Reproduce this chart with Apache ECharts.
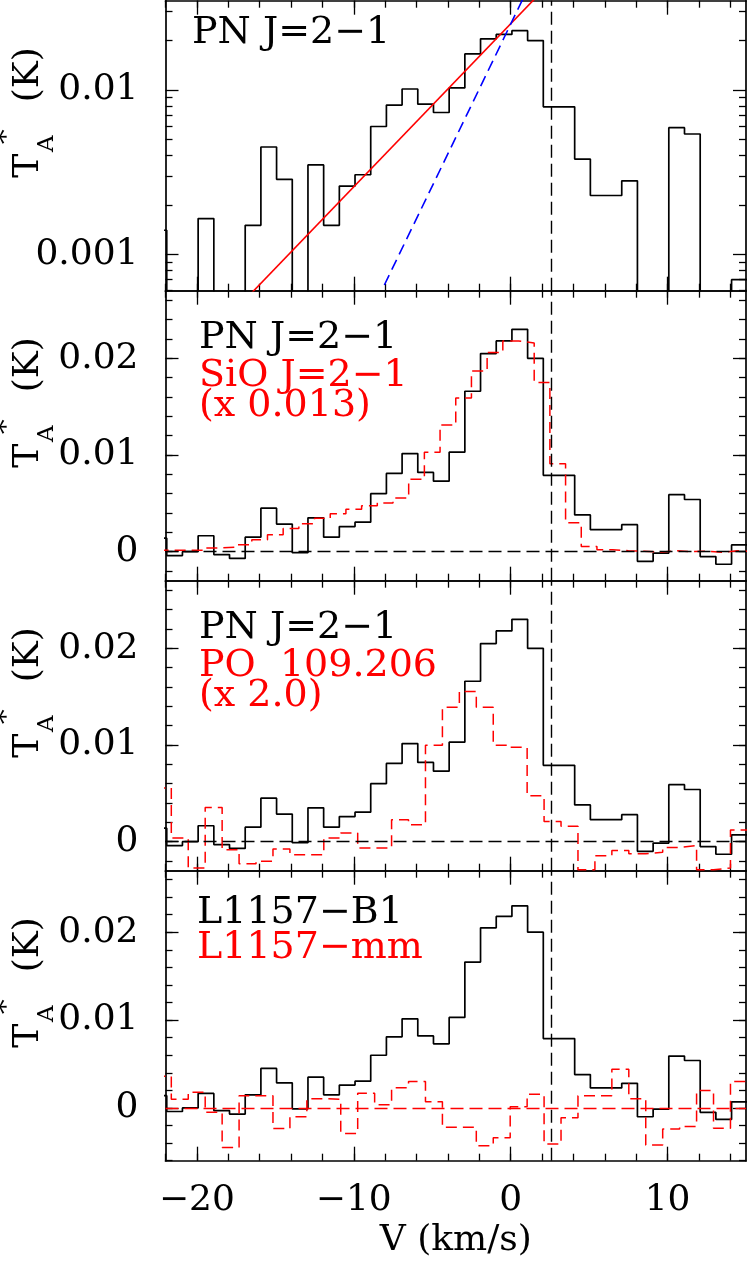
<!DOCTYPE html>
<html><head><meta charset="utf-8">
<script src="https://cdn.jsdelivr.net/npm/echarts@6/dist/echarts.min.js"></script>
<style>html,body{margin:0;padding:0;background:#fff}#c{width:747px;height:1264px}</style>
</head><body><div id="c"></div>
<script>
// ---------------- data ----------------
// PN J=2-1 towards L1157-B1 (channel centres, km/s) and T_A* (K)
const pnVel = [-22.42,-21.42,-20.42,-19.42,-18.42,-17.42,-16.42,-15.42,-14.42,-13.42,-12.42,-11.42,-10.42,-9.42,-8.42,-7.42,-6.42,-5.42,-4.42,-3.42,-2.42,-1.42,-0.42,0.58,1.58,2.58,3.58,4.58,5.58,6.58,7.58,8.58,9.58,10.58,11.58,12.58,13.58,14.58];
const pnT = [0.0014,-0.0004,0.0000,0.00165,-0.0003,-0.0007,0.0015,0.0045,0.00286,-0.0001,0.0035,0.0015,0.0026,0.00305,0.0060,0.0081,0.01015,0.0082,0.0073,0.0103,0.0166,0.0205,0.0218,0.0230,0.0200,0.0079,0.0079,0.0038,0.00228,0.00228,0.0028,-0.0010,-0.00014,0.0059,0.0054,-0.0005,-0.0013,0.0007];
// SiO J=2-1 scaled by 0.013
const sioVel = [-22,-21,-20,-19,-18,-17,-16,-15,-14,-13,-12,-11,-10,-9,-8,-7,-6,-5,-4,-3,-2,-1,0,1,2,3,4,5,6,7,8,9,10,11,12,13,14,15];
const sioT = [0.00014,0.00014,0.00014,0.00038,0.00048,0.00072,0.00124,0.00176,0.00241,0.0029,0.00345,0.00393,0.0044,0.00476,0.00503,0.00555,0.0075,0.0103,0.0131,0.0159,0.0187,0.0206,0.0218,0.0216,0.0175,0.0091,0.0030,0.00055,0.0002,0.0001,0.00005,-0.00005,0.0001,0.0,0.00005,-0.00005,0.0001,0.0];
// PO 109.206 GHz scaled by 2.0
const poVel = [-22.17,-21.09,-20.01,-18.93,-17.85,-16.77,-15.69,-14.61,-13.53,-12.45,-11.37,-10.29,-9.21,-8.13,-7.05,-5.97,-4.89,-3.81,-2.73,-1.65,-0.57,0.51,1.59,2.67,3.75,4.83,5.91,6.99,8.07,9.15,10.23,11.31,12.39,13.47,14.55];
const poT = [0.00555,0.00038,-0.00272,0.00355,-0.00083,-0.00228,-0.00203,-0.00076,-0.00134,-0.00134,0.00038,0.0009,-0.00066,-0.00066,0.00228,0.00176,0.00997,0.0139,0.01555,0.0139,0.00997,0.00976,0.00476,0.0021,0.00159,-0.0029,-0.00145,-0.0009,-0.00124,-0.0011,-0.00059,-0.00041,-0.0029,-0.00272,0.0012];
// PN J=2-1 towards L1157-mm
const mmVel = poVel;
const mmT = [0.0036,0.0010,0.0018,-0.0005,-0.0045,0.0014,0.0014,-0.00235,-0.0010,0.00106,0.0010,-0.0029,0.00167,0.00038,0.0023,0.0030,0.00072,-0.0022,-0.0022,-0.0043,-0.0034,0.00015,0.00155,-0.0041,-0.0011,0.0014,0.0014,0.0044,0.00106,-0.0042,-0.0024,-0.0021,0.0020,-0.0023,0.0030];
// exponential fits in the log panel (end points)
const redFit = [[-17.0,0.00052],[2.0,0.0400]];
const blueFit = [[-8.05,0.00065],[1.0,0.0397]];
const vSys = 2.6;
// axes
const xRange = [-22, 15];
const xMajor = [-20,-10,0,10];
const xMinor = [-22,-20,-18,-16,-14,-12,-10,-8,-6,-4,-2,0,2,4,6,8,10,12,14];
const logRange = [0.0006, 0.035];
const logMajor = [0.001, 0.01];
const logMinor = [0.0006,0.0007,0.0008,0.0009,0.002,0.003,0.004,0.005,0.006,0.007,0.008,0.009,0.02,0.03];
const linRange = [-0.003, 0.027];
const lin4Range = [-0.006, 0.027];
const linMajor = [0, 0.01, 0.02];
const linMinor = [-0.006,-0.004,-0.002,0,0.002,0.004,0.006,0.008,0.01,0.012,0.014,0.016,0.018,0.02,0.022,0.024,0.026];
const panelText = [
  [['PN J=2\u22121','#000']],
  [['PN J=2\u22121','#000'],['SiO J=2\u22121','#ff0000'],['(x 0.013)','#ff0000']],
  [['PN J=2\u22121','#000'],['PO  109.206','#ff0000'],['(x 2.0)','#ff0000']],
  [['L1157\u2212B1','#000'],['L1157\u2212mm','#ff0000']]
];
// ---------------- layout ----------------
const FONT = '"DejaVu Serif", "Liberation Serif", serif';
const FS = 36;
const FT = 38;
const L = 165.5, W = 580.5, H = 290;
const tops = [0.7, 290.7, 580.7, 870.7];

function hist(vel, val, floor) {
  const w = vel[1] - vel[0], d = [];
  for (let i = 0; i < vel.length; i++) {
    let v = val[i];
    if (floor !== undefined && v < floor) v = floor;
    d.push([vel[i] - w / 2, v], [vel[i] + w / 2, v]);
  }
  return d;
}
const minus = s => String(s).replace('-', '\u2212');

const grids = [], xAxis = [], yAxis = [], series = [], graphic = [];
const lineBlack = {color:'#000', width:1.7};
tops.forEach((t, g) => {
  grids.push({left:L, top:t, width:W, height:H, containLabel:false});
  const last = g === 3;
  const mk = (pos, ticks, len, line, labels) => ({
    type:'value', gridIndex:g, min:xRange[0], max:xRange[1], position:pos,
    axisLine:{show:line, onZero:false, lineStyle:lineBlack},
    axisTick:{show:true, inside:true, length:len, customValues:ticks, lineStyle:{color:'#000', width:1.3}},
    axisLabel:{show:labels, customValues:xMajor, formatter:v=>minus(v), color:'#000', fontFamily:FONT, fontSize:FS, margin:22},
    splitLine:{show:false},
    name: (labels ? 'V (km/s)' : ''), nameLocation:'middle', nameGap:62,
    nameTextStyle:{color:'#000', fontFamily:FONT, fontSize:FS}
  });
  xAxis.push(mk('bottom', xMajor, 14, true, last));
  xAxis.push(mk('bottom', xMinor, 7, false, false));
  xAxis.push(mk('top', xMajor, 14, true, false));
  xAxis.push(mk('top', xMinor, 7, false, false));
  const isLog = g === 0;
  const rng = isLog ? logRange : (g === 3 ? lin4Range : linRange);
  const maj = isLog ? logMajor : linMajor;
  const mino = isLog ? logMinor : linMinor;
  const mky = (pos, ticks, len, line, labels) => ({
    type: isLog ? 'log' : 'value', gridIndex:g, min:rng[0], max:rng[1], position:pos,
    axisLine:{show:line, onZero:false, lineStyle:lineBlack},
    axisTick:{show:true, inside:true, length:len, customValues:ticks, lineStyle:{color:'#000', width:1.3}},
    axisLabel:{show:labels, customValues:maj, formatter:v=>String(v), color:'#000', fontFamily:FONT, fontSize:FS, margin:27},
    splitLine:{show:false}
  });
  yAxis.push(mky('left', maj, 13, true, true));
  yAxis.push(mky('left', mino, 7, false, false));
  yAxis.push(mky('right', maj, 13, true, false));
  yAxis.push(mky('right', mino, 7, false, false));
});

function lineSeries(g, data, color, dashed, width, extra) {
  return Object.assign({
    type:'line', xAxisIndex:g*4, yAxisIndex:g*4, data:data, showSymbol:false, symbol:'none',
    clip:true, animation:false, silent:true,
    lineStyle:{color:color, width:width || 1.6, type: dashed ? [11, 6] : 'solid'}
  }, extra || {});
}
const vline = {symbol:'none', silent:true, label:{show:false}, animation:false,
  lineStyle:{color:'#000', width:1.4, type:[13,6]}, data:[{xAxis:vSys}]};
function zeroLine(color) {
  return {symbol:'none', silent:true, label:{show:false}, animation:false,
    lineStyle:{color:color, width:1.4, type:[13,6]}, data:[{yAxis:0}]};
}
// panel 1 (log)
series.push(lineSeries(0, hist(pnVel, pnT, 1e-5), '#000', false, 1.7, {markLine:vline}));
series.push(lineSeries(0, redFit, '#ff0000', false, 1.6));
series.push(lineSeries(0, blueFit, '#0000ff', true, 1.6));
// panel 2
series.push(lineSeries(1, hist(pnVel, pnT), '#000', false, 1.7, {markLine:vline}));
series.push(lineSeries(1, hist(sioVel, sioT), '#ff0000', true, 1.5, {markLine:zeroLine('#000')}));
// panel 3
series.push(lineSeries(2, hist(pnVel, pnT), '#000', false, 1.7, {markLine:vline}));
series.push(lineSeries(2, hist(poVel, poT), '#ff0000', true, 1.5, {markLine:zeroLine('#000')}));
// panel 4
series.push(lineSeries(3, hist(pnVel, pnT), '#000', false, 1.7, {markLine:vline}));
series.push(lineSeries(3, hist(mmVel, mmT), '#ff0000', true, 1.5, {markLine:zeroLine('#ff0000')}));

// panel annotations
const textPos = [
  [[192, 33.5]],
  [[199, 338.5],[199, 376.5],[199, 406.5]],
  [[199, 628.5],[199, 666.5],[199, 696]],
  [[197, 913.5],[197, 948.5]]
];
panelText.forEach((lines, g) => lines.forEach((ln, i) => {
  graphic.push({type:'text', x:textPos[g][i][0], y:textPos[g][i][1], silent:true,
    style:{text:ln[0], fill:ln[1], font:FT+'px '+FONT, align:'left', verticalAlign:'middle'}});
}));
// y titles  T_A^* (K)
tops.forEach((t) => {
  const c = t + H / 2 - 33;
  const rot = Math.PI / 2;
  graphic.push({type:'text', x:28.5, y:c + 53, rotation:rot, silent:true,
    style:{text:'T', fill:'#000', font:FS+'px '+FONT, align:'center', verticalAlign:'middle'}});
  graphic.push({type:'text', x:47.5, y:c + 31, rotation:rot, silent:true,
    style:{text:'A', fill:'#000', font:'23px '+FONT, align:'center', verticalAlign:'middle'}});
  graphic.push({type:'text', x:7, y:c + 24, rotation:rot, silent:true,
    style:{text:'*', fill:'#000', font:'30px '+FONT, align:'center', verticalAlign:'middle'}});
  graphic.push({type:'text', x:29, y:c - 38, rotation:rot, silent:true,
    style:{text:'(K)', fill:'#000', font:FS+'px '+FONT, align:'center', verticalAlign:'middle'}});
});

const chart = echarts.init(document.getElementById('c'), null, {renderer:'canvas'});
chart.setOption({animation:false, backgroundColor:'#fff', grid:grids, xAxis:xAxis, yAxis:yAxis, series:series, graphic:graphic});
</script></body></html>
